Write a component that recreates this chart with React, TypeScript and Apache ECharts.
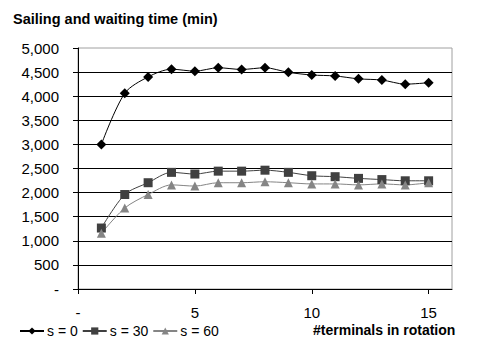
import React, { useEffect, useRef } from "react";
import * as echarts from "echarts";

const terminals = [1, 2, 3, 4, 5, 6, 7, 8, 9, 10, 11, 12, 13, 14, 15];
const s0 = [3000, 4060, 4400, 4560, 4520, 4590, 4555, 4590, 4495, 4440, 4420, 4360, 4335, 4250, 4280];
const s30 = [1265, 1960, 2205, 2420, 2385, 2445, 2445, 2465, 2420, 2350, 2330, 2295, 2270, 2245, 2245];
const s60 = [1155, 1680, 1960, 2160, 2135, 2205, 2205, 2225, 2205, 2180, 2180, 2160, 2180, 2160, 2205];
const xTicks = [0, 5, 10, 15];
const seriesNames = ["s = 0", "s = 30", "s = 60"];

const FONT = "'Liberation Sans', Arial, sans-serif";

export default function App() {
  const ref = useRef<HTMLDivElement>(null);
  useEffect(() => {
    if (!ref.current) return;
    const chart = echarts.init(ref.current, undefined, { renderer: "svg" });
    const pair = (ys: number[]) => terminals.map((x, i) => [x, ys[i]]);
    const fmt = (v: number) => (v === 0 ? "-" : v.toLocaleString("en-US"));
    chart.setOption({
      animation: false,
      backgroundColor: "#ffffff",
      textStyle: { fontFamily: FONT },
      grid: {
        left: 78,
        right: 30,
        top: 48,
        bottom: 67,
        show: true,
        borderColor: "#a0a0a0",
        borderWidth: 1,
      },
      graphic: [
        {
          type: "text",
          left: 13,
          top: 11,
          style: {
            text: "Sailing and waiting time (min)",
            font: `bold 14.5px ${FONT}`,
            fill: "#000",
          },
        },
        {
          type: "text",
          left: 313,
          top: 323,
          style: {
            text: "#terminals in rotation",
            font: `bold 14px ${FONT}`,
            fill: "#000",
          },
        },
      ],
      legend: {
        left: 14,
        top: 319,
        itemWidth: 24,
        itemHeight: 9,
        itemGap: 4,
        data: seriesNames,
        textStyle: { fontSize: 14, color: "#000", fontFamily: FONT, padding: [0, 0, 0, -2] },
      },
      xAxis: {
        type: "value",
        min: 0,
        max: 16,
        interval: 5,
        axisLine: { show: true, lineStyle: { color: "#000" } },
        axisTick: { show: true, length: 5, customValues: xTicks, lineStyle: { color: "#000" } },
        axisLabel: {
          customValues: xTicks,
          formatter: (v: number) => (v === 0 ? "-" : String(v)),
          fontSize: 15,
          color: "#000",
          margin: 16,
          fontFamily: FONT,
        },
        splitLine: { show: false },
      },
      yAxis: {
        type: "value",
        min: 0,
        max: 5000,
        interval: 500,
        axisLine: { show: true, lineStyle: { color: "#000" } },
        axisTick: { show: true, length: 5, lineStyle: { color: "#000" } },
        axisLabel: {
          formatter: fmt,
          fontSize: 15,
          color: "#000",
          margin: 19,
          fontFamily: FONT,
        },
        splitLine: { show: true, showMaxLine: false, lineStyle: { color: "#000", width: 1 } },
      },
      series: [
        {
          name: seriesNames[0],
          type: "line",
          data: pair(s0),
          smooth: 0.3,
          symbol: "diamond",
          symbolSize: 10,
          itemStyle: { color: "#000" },
          lineStyle: { color: "#000", width: 1 },
        },
        {
          name: seriesNames[1],
          type: "line",
          data: pair(s30),
          smooth: 0.3,
          symbol: "rect",
          symbolSize: 9,
          itemStyle: { color: "#404040" },
          lineStyle: { color: "#404040", width: 1 },
        },
        {
          name: seriesNames[2],
          type: "line",
          data: pair(s60),
          smooth: 0.3,
          symbol: "triangle",
          symbolSize: 9,
          itemStyle: { color: "#858585" },
          lineStyle: { color: "#858585", width: 1 },
        },
      ],
    });
    return () => chart.dispose();
  }, []);
  return <div ref={ref} style={{ width: 482, height: 356, position: "absolute", left: 0, top: 0 }} />;
}
